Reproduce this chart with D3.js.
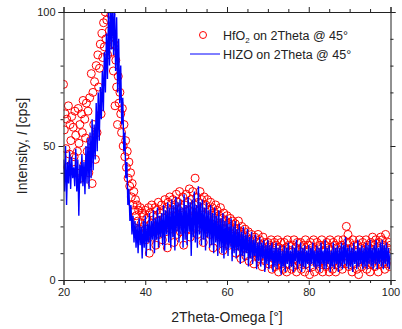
<!DOCTYPE html>
<html>
<head>
<meta charset="utf-8">
<script src="https://cdn.jsdelivr.net/npm/d3@7"></script>
<style>
  body { margin: 0; background: #fff; }
  text { font-family: "Liberation Sans", Arial, sans-serif; fill: #222; }
</style>
</head>
<body>
<div id="grafico"></div>
<script>
// HfO2 scan, one value every 0.2 deg from 20 deg
const hfo2Start = 20, hfo2Step = 0.2;
const hfo2 = [
  73, 56, 62, 49, 60, 42, 65, 47, 58, 52,
  61, 44, 57, 46, 63, 54, 40, 48, 64, 51,
  58, 38, 62, 55, 67, 43, 60, 53, 66, 48,
  63, 40, 68, 52, 77, 36, 70, 58, 74, 45,
  80, 55, 84, 72, 79, 88, 62, 92, 83, 96,
  87, 100, 90, 97, 84, 102, 93, 88, 99, 85,
  92, 78, 88, 65, 82, 72, 58, 76, 66, 70,
  62, 55, 64, 50, 58, 46, 52, 42, 48, 38,
  44, 35, 40, 31, 36, 28, 33, 26, 30, 24,
  28, 22, 26, 19, 27, 21, 25, 17, 24, 20,
  26, 15, 23, 19, 27, 10, 25, 21, 28, 16,
  24, 18, 27, 13, 26, 22, 29, 17, 25, 20,
  28, 15, 26, 23, 30, 18, 27, 12, 29, 22,
  31, 19, 26, 24, 30, 14, 28, 21, 32, 17,
  29, 23, 33, 18, 27, 25, 31, 13, 28, 22,
  32, 19, 29, 26, 34, 16, 30, 23, 33, 20,
  28, 38, 24, 31, 17, 29, 26, 33, 21, 30,
  27, 14, 31, 22, 28, 19, 30, 24, 26, 17,
  29, 21, 27, 12, 25, 23, 28, 18, 26, 20,
  24, 16, 27, 21, 23, 11, 25, 19, 22, 15,
  24, 18, 21, 13, 23, 20, 17, 22, 14, 19,
  21, 10, 19, 16, 22, 13, 18, 8, 20, 15,
  17, 12, 19, 9, 16, 14, 18, 7, 15, 13,
  17, 10, 15, 6, 16, 12, 14, 9, 17, 8,
  15, 11, 13, 5, 16, 9, 14, 7, 12, 10,
  14, 6, 13, 9, 15, 4, 12, 8, 14, 5,
  13, 7, 15, 3, 12, 10, 14, 6, 11, 4,
  14, 8, 12, 3, 15, 6, 13, 9, 11, 4,
  13, 5, 15, 8, 12, 3, 14, 7, 11, 6,
  14, 4, 12, 9, 13, 3, 15, 6, 11, 8,
  13, 2, 14, 7, 12, 5, 15, 3, 11, 9,
  14, 6, 12, 4, 13, 8, 15, 3, 11, 7,
  13, 5, 14, 9, 12, 3, 15, 6, 11, 4,
  14, 7, 13, 3, 12, 8, 15, 5, 11, 6,
  13, 4, 15, 9, 12, 6, 20, 14, 17, 5,
  14, 8, 12, 3, 15, 6, 13, 9, 11, 4,
  13, 2, 15, 7, 12, 5, 14, 9, 11, 6,
  15, 4, 13, 8, 12, 3, 14, 6, 16, 7,
  13, 5, 15, 9, 12, 3, 14, 7, 16, 6,
  15, 8, 13, 4, 17, 6, 12, 9, 14, 5,
  13
];

// HIZO scan, one value every 0.25 deg from 20 deg
const hizoStart = 20, hizoStep = 0.25;
const hizo = [
  45, 33, 50, 28, 44, 36, 48, 34,   46, 38, 42, 35, 49, 33, 45, 24,
  43, 36, 47, 35, 44, 32, 50, 36,   53, 34, 55, 38, 60, 41, 58, 45,
  66, 48, 70, 52, 72, 60, 78, 63,   85, 70, 92, 75, 100, 80, 104, 86,
  105, 84, 102, 78, 98, 70, 90, 66, 80, 58, 68, 48, 55, 38, 44, 28,
  34, 22, 28, 17, 24, 14, 22, 12,   21, 10, 23, 13, 20, 8, 22, 12,
  24, 9, 21, 14, 25, 11, 22, 15,    26, 10, 23, 15, 27, 12, 24, 16,
  25, 13, 28, 11, 26, 17, 29, 14,   27, 12, 30, 16, 28, 11, 31, 18,
  29, 14, 30, 17, 27, 12, 32, 15,   28, 13, 31, 18, 29, 9, 30, 16,
  33, 14, 28, 12, 35, 17, 29, 13,   30, 15, 27, 11, 29, 16, 26, 12,
  28, 13, 25, 10, 27, 14, 24, 9,    26, 12, 23, 10, 25, 8, 22, 11,
  24, 9, 21, 12, 23, 7, 20, 10,     22, 8, 19, 11, 21, 6, 18, 9,
  20, 7, 17, 10, 19, 5, 16, 8,      18, 6, 15, 9, 17, 4, 14, 7,
  16, 5, 14, 8, 15, 3, 13, 6,       15, 4, 13, 7, 14, 3, 12, 5,
  14, 4, 12, 6, 13, 2, 11, 5,       13, 3, 12, 6, 14, 4, 11, 5,
  13, 3, 12, 7, 15, 4, 11, 6,       14, 3, 12, 5, 13, 4, 11, 6,
  13, 3, 12, 6, 14, 5, 11, 4,       13, 5, 12, 3, 14, 6, 11, 4,
  15, 4, 12, 6, 13, 3, 11, 5,       14, 4, 12, 6, 13, 3, 12, 5,
  14, 4, 13, 6, 16, 5, 12, 4,       13, 5, 12, 3, 14, 6, 11, 4,
  15, 5, 12, 6, 13, 4, 12, 5,       14, 4, 13, 6, 15, 5, 12, 4,
  13, 6, 15, 4, 12, 6, 14, 5,       15, 4, 13, 6, 14, 5, 12, 4,
  10
];

const xTicks = [20, 40, 60, 80, 100];
const yTicks = [0, 50, 100];
const legendLabels = ["HfO", "HIZO on 2Theta @ 45°"];

const margin = { top: 12, left: 63.5, right: 11.5, bottom: 49 };
const W = 402, H = 329;
const width  = W - margin.left - margin.right;
const height = H - margin.top - margin.bottom;

const svg = d3.select("#grafico")
              .append("svg")
              .attr("width", W)
              .attr("height", H);

const g = svg.append("g")
             .attr("transform", `translate(${margin.left}, ${margin.top})`);

const xScale = d3.scaleLinear().domain([20, 100]).range([0, width]);
const yScale = d3.scaleLinear().domain([0, 100]).range([height, 0]);

svg.append("defs").append("clipPath").attr("id", "clip")
   .append("rect").attr("width", width).attr("height", height);

const plot = g.append("g").attr("clip-path", "url(#clip)");

// red open circles
plot.selectAll("circle")
    .data(hfo2)
    .enter()
    .append("circle")
    .attr("cx", (d, i) => xScale(hfo2Start + i * hfo2Step))
    .attr("cy", d => yScale(d))
    .attr("r", 4)
    .attr("fill", "none")
    .attr("stroke", "#ff0000")
    .attr("stroke-width", 1);

// blue line
const line = d3.line()
               .x((d, i) => xScale(hizoStart + i * hizoStep))
               .y(d => yScale(d));

plot.append("path")
    .datum(hizo)
    .attr("d", line)
    .attr("fill", "none")
    .attr("stroke", "#0000ff")
    .attr("stroke-width", 1.4);

// axes: major + minor ticks, mirrored on top / right
const xMinor = d3.range(20, 101, 5).filter(v => v % 20);
const yMinor = d3.range(0, 101, 10).filter(v => v % 50);

function ticks(axisFn, scale, major, minor, pos, showLabels) {
  const a = g.append("g").attr("transform", pos);
  a.call(axisFn(scale).tickValues(major).tickSize(5).tickPadding(3)
         .tickFormat(showLabels ? d3.format("d") : ""));
  a.append("g").call(axisFn(scale).tickValues(minor).tickSize(3).tickFormat(""))
   .select(".domain").remove();
  a.selectAll("line, path").attr("stroke", "#222");
  a.selectAll("text").attr("font-size", "11px").attr("fill", "#222");
  return a;
}

ticks(d3.axisBottom, xScale, xTicks, xMinor, `translate(0, ${height})`, true);
ticks(d3.axisTop, xScale, xTicks, xMinor, "translate(0, 0)", false);
ticks(d3.axisLeft, yScale, yTicks, yMinor, "translate(0, 0)", true);
ticks(d3.axisRight, yScale, yTicks, yMinor, `translate(${width}, 0)`, false);

// axis titles
g.append("text")
 .attr("x", width / 2)
 .attr("y", height + 42)
 .attr("font-size", "14px")
 .style("text-anchor", "middle")
 .text("2Theta-Omega [°]");

const yt = svg.append("text")
              .attr("transform", `translate(27, ${margin.top + height / 2}) rotate(-90)`)
              .attr("font-size", "14px")
              .style("text-anchor", "middle");
yt.append("tspan").text("Intensity, ");
yt.append("tspan").attr("font-style", "italic").text("I");
yt.append("tspan").text(" [cps]");

// legend
const lg = svg.append("g");
lg.append("circle").attr("cx", 203).attr("cy", 35).attr("r", 3.5)
  .attr("fill", "none").attr("stroke", "#ff0000");
const t1 = lg.append("text").attr("x", 223).attr("y", 40).attr("font-size", "12.5px");
t1.append("tspan").text(legendLabels[0]);
t1.append("tspan").attr("font-size", "8px").attr("dy", 3).text("2");
t1.append("tspan").attr("dy", -3).text(" on 2Theta @ 45°");
lg.append("line").attr("x1", 190).attr("x2", 220).attr("y1", 54).attr("y2", 54)
  .attr("stroke", "#0000ff");
lg.append("text").attr("x", 223).attr("y", 59).attr("font-size", "12.5px")
  .text(legendLabels[1]);
</script>
</body>
</html>
